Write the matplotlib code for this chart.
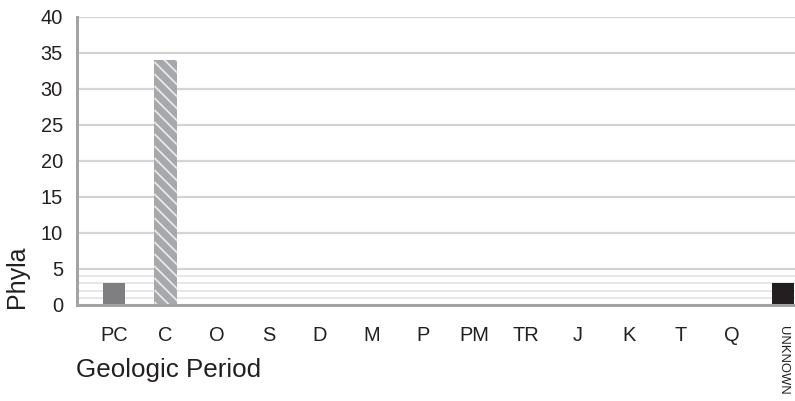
import matplotlib
matplotlib.use("Agg")
import matplotlib.pyplot as plt
from matplotlib.transforms import IdentityTransform
import numpy as np

categories = ["PC", "C", "O", "S", "D", "M", "P", "PM", "TR", "J", "K", "T", "Q", "UNKNOWN"]
phyla = [3, 34, 0, 0, 0, 0, 0, 0, 0, 0, 0, 0, 0, 3]
y_ticks = [0, 5, 10, 15, 20, 25, 30, 35, 40]
minor_ticks = [1, 2, 3, 4]

plt.rcParams['font.family'] = ['Liberation Sans', 'DejaVu Sans']

DPI = 72
W, H = 795, 401
fig = plt.figure(figsize=(W / DPI, H / DPI), dpi=DPI)
ax = fig.add_axes([77 / W, 96 / H, (W - 77) / W, 288 / H])

text_col = "#231f20"
x = list(range(len(categories)))
bar_colors = ["#7f7f82", "#a7a8ac"] + ["#a7a8ac"] * 11 + ["#231f20"]
bars = ax.bar(x, phyla, width=0.43, color=bar_colors, linewidth=0, zorder=3)

ax.set_xlim(-0.72, 13.23)
ax.set_ylim(0, 40)

# diagonal white stripes on the "C" bar, computed from the bar's own extent
hb = bars[1]
bb = hb.get_window_extent()
step = 12.0
L = bb.width + bb.height + step
offsets = np.arange(0, bb.height + bb.width + step, step)
for off in offsets:
    y_start = bb.y1 + bb.width - off
    ln, = ax.plot([bb.x0, bb.x0 + L], [y_start, y_start - L], color="#e8e8e8",
                  linewidth=1.8, transform=IdentityTransform(), zorder=3.5,
                  solid_capstyle="butt")
    ln.set_clip_path(hb)

ax.set_yticks(y_ticks)
ax.set_yticks(minor_ticks, minor=True)
ax.grid(axis="y", which="major", color="#d3d3d3", linewidth=2.2, zorder=0)
ax.grid(axis="y", which="minor", color="#e0e0e0", linewidth=1.5, zorder=0)
ax.grid(axis="x", visible=False)

for s in ["top", "right"]:
    ax.spines[s].set_visible(False)
for s in ["left", "bottom"]:
    ax.spines[s].set_color("#a4a4a6")
    ax.spines[s].set_linewidth(3)
    ax.spines[s].set_zorder(4)

ax.tick_params(axis="y", which="both", length=0, pad=14, labelsize=20, labelcolor=text_col)
ax.tick_params(axis="x", length=0, pad=21, labelsize=20, labelcolor=text_col)
ax.set_xticks(x)
ax.set_xticklabels(categories)
lbl = ax.get_xticklabels()[-1]
lbl.set_rotation(270)
lbl.set_fontsize(13)
lbl.set_va("top")
lbl.set_ha("center")

fig.text(76 / W, 1 - 370 / H, "Geologic Period", fontsize=26, color=text_col,
         ha="left", va="center")
fig.text(17 / W, 1 - 308 / H, "Phyla", fontsize=25, color=text_col,
         rotation=90, ha="center", va="bottom")

fig.savefig("out.png", dpi=DPI)
